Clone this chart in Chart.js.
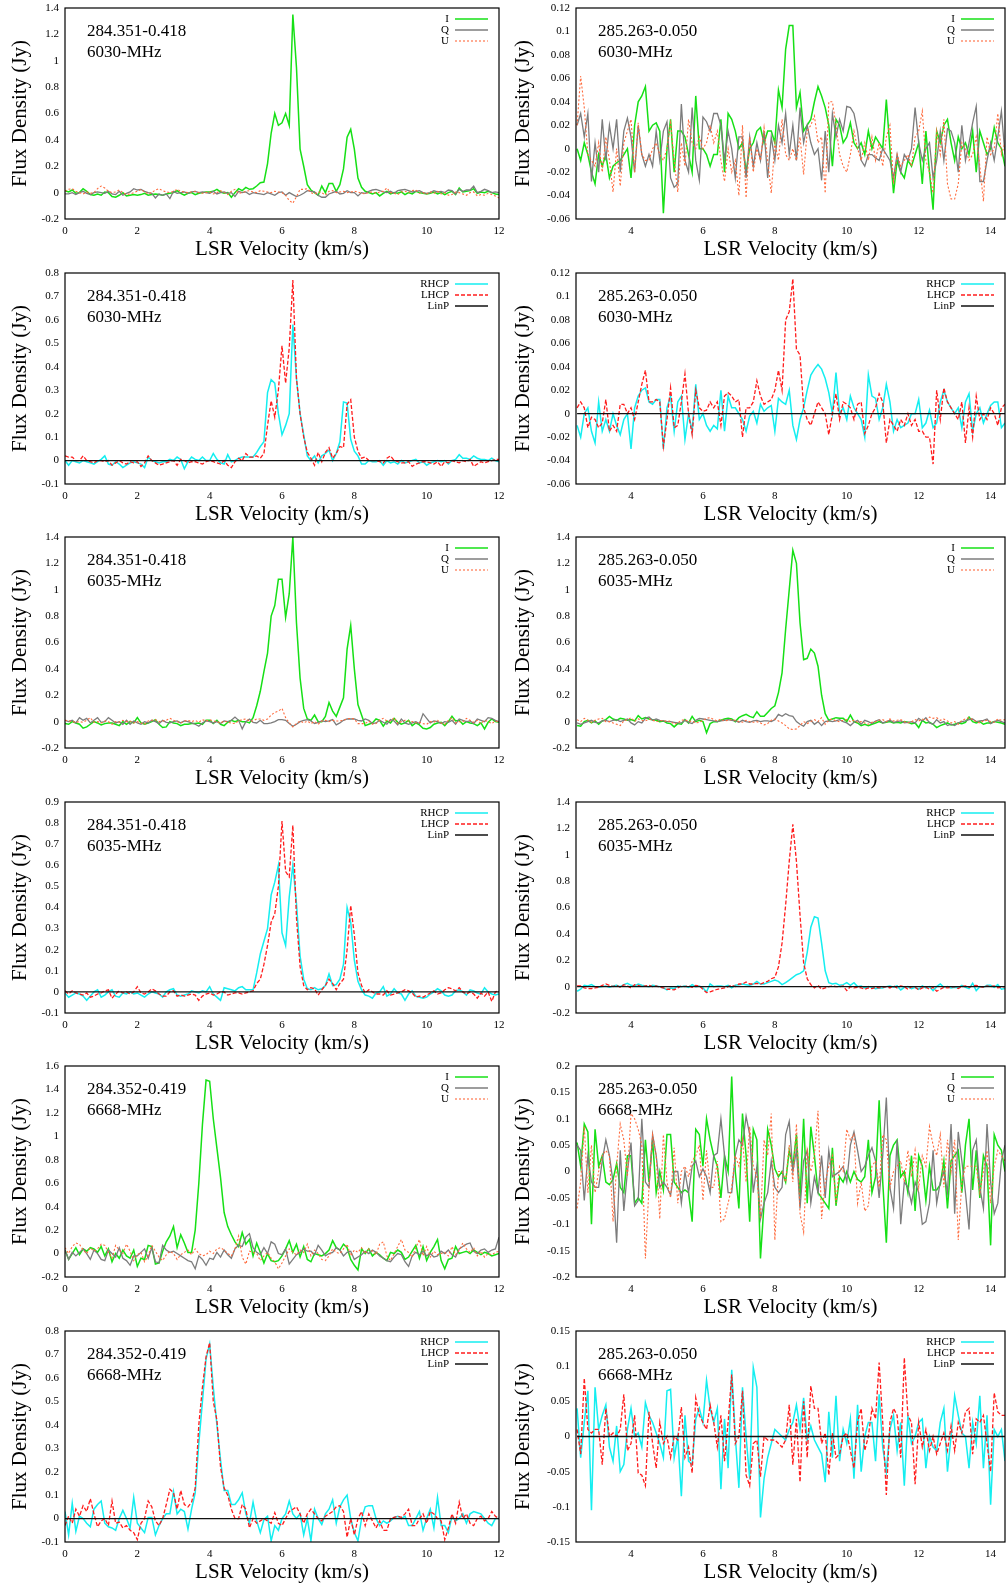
<!DOCTYPE html>
<html>
<head>
<meta charset="utf-8">
<title>Maser spectra 284.351-0.418 / 285.263-0.050</title>
<script src="https://cdn.jsdelivr.net/npm/chart.js@4.4.1/dist/chart.umd.min.js"></script>
<style>
  html, body { margin: 0; padding: 0; background: #fff; }
  #figure { position: relative; width: 1006px; height: 1587px; overflow: hidden; }
  #figure canvas { position: absolute; }
</style>
</head>
<body>
<div id="figure"></div>
<script>
// channel grids, km/s (0.1 km/s channels)
const leftVel = Array.from({ length: 121 }, (_, i) => +(i * 0.1).toFixed(1));
const rightVel = Array.from({ length: 120 }, (_, i) => +(2.5 + i * 0.1).toFixed(1));

const leftTicks = [0, 2, 4, 6, 8, 10, 12];
const rightTicks = [4, 6, 8, 10, 12, 14];

// flux densities in mJy, one value per channel

// 284.351-0.418, 6030 MHz, Stokes
const I284_6030 = [
  15, 5, 20, -5, 0, 30, 10, -15, -20, -10, -20, 5, 0, -30, -35, -20, 0, -25, -20, -15,
  -20, -15, -5, -20, -15, -10, -15, -20, -10, -5, 0, 15, -5, -20, -5, 0, -15, -5, 0, 5,
  5, 10, 25, 5, -5, 0, -35, 0, 30, 15, 40, 25, 30, 50, 75, 80, 220, 450, 600, 510,
  530, 600, 510, 1350, 950, 330, 200, 60, 20, 0, -20, 50, 0, 70, 70, 10, 60, 180, 420, 480,
  330, 110, 40, 10, 0, -10, 0, -25, -5, 10, -10, 0, -5, 5, -15, 0, -10, 10, 0, -5,
  -10, -5, 5, -10, 0, -15, 0, 10, -15, 35, 5, 10, 15, 30, -5, 5, 0, 10, 0, -10, -15];
const Q284_6030 = [
  -10, -10, 0, -15, 0, 10, -5, -15, 0, 5, 0, -5, 10, -10, -15, 10, -20, -5, 5, 30,
  20, 25, 10, 0, -5, -40, -10, -20, -10, -45, 10, -5, 0, 5, -5, 5, 10, 0, 5, 0,
  -5, 10, -10, 0, 5, -5, 0, -30, 10, 0, 5, -15, 0, -5, -10, -15, 0, -10, -20, 0,
  5, -20, 0, -15, -30, -20, -5, 15, 10, 5, -20, -35, -35, -10, 0, 10, -10, -5, 15, 0,
  0, -25, 0, -5, 10, 20, 25, 15, 5, 0, 10, -5, 15, 20, 25, 15, 5, 10, 15, 0,
  -5, 0, 15, 5, 10, 0, 20, 15, -10, 25, 10, 20, 20, 50, 0, 10, 25, 15, 0, 5, 0];
const U284_6030 = [
  10, 25, 30, 10, 0, -10, 5, -5, 0, 30, 50, 35, 10, 0, 5, 20, 0, -15, -10, 0,
  10, 25, 5, -10, 0, 20, 30, 15, 5, 0, 10, 25, 10, 5, 0, 5, 10, 0, -5, 0,
  5, -10, 0, 15, 0, -15, 10, 25, -5, 0, 10, 15, 5, 0, 15, 10, 5, 0, 10, 5,
  0, -20, -60, -80, -30, 25, 25, 30, 0, -10, 5, 0, -20, 10, 15, 0, 5, 10, 0, 5,
  10, 5, -5, -10, 0, 5, -5, 5, 10, 35, 0, -5, -15, 5, 10, 0, 15, 20, -5, 0,
  -10, 5, -5, 10, -10, 0, -20, -15, 5, 0, -10, -20, 0, 5, -25, -15, -20, -5, -15, -25, -40];

// 285.263-0.050, 6030 MHz, Stokes
const I285_6030 = [
  0, -10, 5, -5, -20, -30, -5, -15, -5, -25, -15, -12, -10, -5, 0, -25, 20, 40, 45, 53,
  15, 20, 22, 15, -55, 0, 25, -20, 15, 15, 10, -5, -20, 45, 0, 0, -5, -15, -5, -5,
  25, -20, 30, 25, 15, 0, 5, -20, 0, 5, 15, 18, 5, 15, 15, 5, 50, 35, 85, 105,
  105, 35, 48, 15, 20, 25, 40, 53, 45, 35, 20, -15, 25, 20, 5, 10, 22, 5, 0, 5,
  -5, 15, 0, 10, 5, 0, 42, 0, -38, -10, -20, -25, -10, -15, -5, 5, -30, 15, -20, -52,
  15, 5, 20, 25, 5, -10, 10, 0, 5, -5, 15, -20, 15, 5, -5, 0, 18, 5, 0, -15];
const Q285_6030 = [
  20, 30, 10, 30, -28, 5, -20, 25, -10, 20, 0, 25, -20, 15, 26, 10, -20, 20, -5, -15,
  -5, -15, 15, -10, 15, 23, -25, -33, -30, 38, -10, -20, 35, -10, -27, 27, 23, 15, 30, 30,
  20, -10, 15, 0, -25, 10, 10, -25, 10, -15, 5, -10, 15, -25, 10, -10, 20, 5, 30, -5,
  20, -10, 35, 5, 20, 5, -5, 0, -27, 15, -20, 30, 10, 25, 15, 36, 35, 30, 15, -10,
  -15, -5, -5, -8, -10, 0, -5, -10, -25, -5, -20, -5, -10, 0, 35, 5, -10, 0, 5, -25,
  -10, 15, -10, 17, 15, 5, -20, 20, -10, 5, 22, 36, -28, -28, -10, 5, -10, 10, 32, -5];
const U285_6030 = [
  20, 62, 35, -5, -10, -15, 5, -20, 10, -10, -37, 0, -32, 5, 15, 25, -20, 22, -5, -10,
  -10, 0, 5, -5, -10, 0, 22, -10, -37, 5, -15, 25, 5, 0, 10, 0, 5, 20, 5, 15,
  -10, -28, 0, -20, -10, -40, 20, -42, 10, -20, 0, -10, 18, -10, -38, 5, -10, 25, -5, -10,
  0, -10, 10, -22, 15, 20, 28, 5, 10, -38, 40, 40, 20, -5, -15, -20, -5, 15, 0, -10,
  5, -10, 10, -10, 5, -15, 10, 20, -30, -5, -15, -10, -5, -15, 10, 15, 32, -10, -20, -38,
  15, -5, 25, -30, -43, -43, -30, 5, 0, -10, -5, 10, -15, -45, 10, -5, 0, 30, -5, 5];

// 284.351-0.418, 6030 MHz, circular
const R284_6030 = [
  0, -20, 0, -5, -10, 0, -5, -10, -15, -5, 5, 20, -15, -20, -5, -15, -30, -20, -10, -5,
  -10, -15, -30, 15, 0, -5, -10, -5, -5, 5, 0, 15, 5, -35, -5, 15, 5, 0, 15, 0,
  0, 30, 5, -10, -15, 25, -5, 0, 10, 15, 15, 15, 15, 35, 60, 80, 290, 345, 330, 200,
  110, 150, 200, 580, 350, 200, 110, 20, 0, 20, -10, 20, 30, 45, 0, 30, 80, 250, 245, 90,
  40, 20, -15, -15, 0, -5, -5, 0, -20, 0, -10, -5, -15, 0, -10, -5, 0, 5, -10, -5,
  -20, -10, -5, 0, -5, 0, -15, 0, 5, 25, 10, 10, 5, 20, 10, 5, 5, 0, 10, 0, -5];
const L284_6030 = [
  20, 15, 15, 0, 0, 20, 0, -5, -10, 0, 0, -5, 0, -20, -10, 0, -10, -15, -5, -10,
  -5, -25, -10, 20, 0, -10, -20, -15, -10, -5, 0, -20, 5, 0, -10, -5, -5, -10, -15, -5,
  0, -5, -10, -15, 0, -20, -30, -5, 10, 0, 30, 15, 15, 20, 10, 30, 150, 255, 185, 300,
  490, 330, 480, 770, 350, 200, 100, 35, 10, -20, 35, -5, 35, 55, 10, 30, 60, 55, 240, 260,
  100, 40, 10, 15, 0, 0, 0, -5, -10, 10, 20, 0, -5, -10, -10, -5, -25, -15, -10, -5,
  -5, -10, -15, -5, -25, -5, -10, 0, -5, -10, 0, -5, 5, -25, -15, -5, -10, -5, 0, 5, 5];

// 285.263-0.050, 6030 MHz, circular
const R285_6030 = [
  -10, -20, 0, 5, -15, -25, 10, -15, -5, -15, 0, -10, -18, -5, 0, -30, 5, 15, 20, 22,
  10, 8, 12, 12, -30, 5, 15, -15, 10, 15, -22, 0, -15, 25, -5, 0, -10, -15, -10, -13,
  20, -15, 15, 5, 5, 0, -5, -15, -2, 2, -8, 8, 2, 5, 7, -15, 13, 10, 8, 20,
  -10, -22, -5, 5, 20, 33, 38, 42, 38, 30, 18, 0, 35, 0, 5, -5, 15, 5, 0, -5,
  -20, 33, 15, 13, -5, 5, 25, 10, -15, -5, -12, -10, -8, 0, 0, 12, -12, -8, 3, -12,
  -8, 10, 20, 10, 5, 0, 5, -12, 10, 17, -15, 0, 5, -8, 0, 7, 10, 10, -12, -8];
const L285_6030 = [
  5, 10, 5, -12, -3, -5, -12, -8, 12, -15, -10, -15, 8, 8, 0, 5, -5, 10, 25, 37,
  10, 10, 12, 10, -28, -5, 22, -12, -10, 10, 34, 0, -18, 20, 5, 2, 3, 10, 5, 10,
  -10, 15, 18, 15, 10, 12, -20, 5, 5, 10, 28, 15, 8, 10, 12, 20, 37, 20, 80, 87,
  115, 55, 50, 5, -5, -10, 0, 10, 5, 0, -18, 0, 17, -5, 10, 8, 5, -5, 8, 10,
  -17, -10, 0, 5, 17, 10, -25, -5, -10, -15, -5, -10, 0, -10, -5, -15, -15, -20, -20, -43,
  20, -5, 22, 10, 5, 0, -5, 10, -25, 5, -20, 15, -5, 0, -5, 5, 0, -10, 5, 8];

// 284.351-0.418, 6035 MHz, Stokes
const I284_6035 = [
  -15, -20, 0, -10, -20, -50, -40, -20, 0, -10, -25, -15, -10, -10, -20, -30, 0, -20, 0, -10,
  30, -10, -20, -10, 0, 15, -20, -45, -40, 0, -10, -15, -30, -20, -20, -15, -15, -10, -20, 10,
  10, -15, 10, -20, -30, -5, 10, 0, 10, 0, 0, -10, 30, 120, 230, 380, 520, 800, 880, 1080,
  1080, 790, 970, 1400, 750, 330, 100, 20, 10, 50, 0, 0, 40, 145, 80, 40, 110, 180, 550, 730,
  400, 130, 50, -30, -20, -10, 20, 10, -35, 5, -10, 25, -5, -20, -10, 10, -30, -10, -25, -50,
  -55, -45, -20, -10, -5, -30, 0, 40, 5, 10, -20, 0, -10, -15, -30, -10, -55, -5, 20, 0, -5];
const Q284_6035 = [
  10, 0, 10, -10, 30, 10, 25, -10, 10, 30, -5, 0, 30, 10, -10, 0, -20, 10, -20, 5,
  -10, -20, 0, -10, 10, 0, -15, 10, -5, -10, 0, 5, -10, 5, 0, -10, -20, -35, -10, 5,
  0, -10, 0, -15, 5, 0, 10, 35, 10, -55, 0, 20, -5, -10, 10, -15, -15, -10, 0, 15,
  15, 10, -15, -35, -20, 0, 10, 15, 5, -15, -5, 5, 0, 5, 15, -25, -10, 10, 20, 20,
  20, 10, 5, 20, 10, -15, -10, 10, -5, -20, 15, 5, -25, 20, -10, -20, -10, 0, -15, 60,
  25, -10, 5, 0, -15, 0, -5, 10, -20, 20, 10, 0, 5, -15, 20, 10, 0, 30, 25, 10, 0];
const U284_6035 = [
  10, 5, 0, -5, 0, -5, 10, 30, -5, 0, -10, 5, 0, -20, 0, -5, 10, 0, 5, -10,
  0, -10, -20, 5, 10, 15, 0, 5, 10, 25, 10, 0, -10, 5, 10, 0, 10, -5, 15, 5,
  15, 5, 0, -10, 5, -5, -10, -15, 5, 15, 20, 5, 5, 20, 20, 10, 20, 50, 70, 80,
  100, 30, -10, -40, -15, 5, -10, 5, -15, 0, -20, 5, 10, 0, 10, 5, 5, 10, 20, 25,
  20, -15, -15, -15, 5, -20, -15, 10, 25, 5, 5, 30, -15, 0, 10, 5, 0, -10, -5, -15,
  -20, 0, -5, 10, -10, -20, 10, 30, -10, 0, 0, 25, 10, -5, 10, -15, 10, 0, -15, 5, -5];

// 285.263-0.050, 6035 MHz, Stokes
const I285_6035 = [
  -30, -35, 0, 10, -10, 5, -20, 5, 15, 40, 20, 10, 25, 20, 10, 15, 5, 45, 20, 30,
  20, 15, 10, 0, 5, -10, -15, -40, -15, -20, 15, -10, 40, 0, 10, 0, -85, -15, 0, 0,
  10, 20, 25, 20, 0, 30, 45, 55, 40, 30, 75, 40, 40, 70, 100, 120, 220, 370, 700, 1000,
  1300, 1200, 750, 470, 480, 550, 520, 420, 200, 60, 10, 20, 30, 25, 25, 0, 50, 0, -10, -30,
  -20, -30, -20, -10, 0, -10, -5, 0, -10, -5, -10, 0, -5, -15, -10, -45, 10, -10, -5, -20,
  -45, -30, -20, -10, -25, -20, -10, -15, -5, 35, 0, -10, 0, -20, -10, -10, 0, -5, -10, -20];
const Q285_6035 = [
  -10, -20, -10, 0, 10, -5, -10, 5, 10, 0, 10, 15, 0, 10, 20, -10, -25, 0, -10, 25,
  35, 10, 20, 10, 5, 0, 0, -5, -10, -10, 10, -5, -15, 10, 25, 20, 15, 10, 5, 0,
  5, 10, 15, 10, 5, -5, 10, 0, -5, 5, 10, 0, 5, 5, 0, 15, 55, 40, 60, 45,
  40, 0, -20, -35, 0, 10, -20, 0, -30, 0, 5, 0, 5, 15, 0, -10, -30, -5, 10, -20,
  10, 0, -15, 5, 15, -10, 0, 10, -5, 0, 5, -10, -5, 0, -10, 25, 5, 30, -10, -20,
  15, -10, 0, -30, -20, -30, -10, 0, 5, 15, 20, 0, 5, 10, 20, -15, 0, 10, 0, -10];
const U285_6035 = [
  15, 0, 25, 10, -5, 10, 20, 25, 0, 0, -10, -20, -30, 5, 15, 30, 0, 20, 10, 5,
  20, 10, 0, 5, 10, 0, 5, -20, -10, 10, 15, 0, 5, -10, -5, 10, 25, 30, 15, 5,
  20, 5, 10, 15, 10, 0, -5, 10, 0, -5, 0, -10, -25, -15, 10, 20, 5, -10, -30, -55,
  -60, -55, -30, 0, -15, 0, 15, 0, 30, -20, 10, 20, 5, 0, 10, 15, 0, 10, -5, 0,
  -10, -20, -5, 0, 10, 15, 0, 20, 5, 10, 15, 0, -10, 0, 15, 5, 20, 10, 35, 25,
  30, 10, 20, 5, -10, 0, -20, 10, 20, 30, 15, 0, -10, 5, 10, 0, -5, 20, 10, 15];

// 284.351-0.418, 6035 MHz, circular
const R284_6035 = [
  -5, -25, -15, -5, -10, -20, -40, -20, 0, 10, -25, -15, 0, 10, -20, -25, -5, -10, 0, -10,
  -5, -15, -25, -10, 0, -5, -10, -25, 0, 10, 15, -15, -20, -15, -10, 5, 0, -5, 5, 0,
  25, -10, -25, -40, 20, 15, 10, 5, 20, 25, 10, 10, 10, 90, 180, 240, 300, 460, 520, 600,
  280, 220, 450, 600, 420, 170, 60, 15, 10, 20, 10, 15, 30, 85, 30, 35, 60, 130, 400, 330,
  150, 50, 10, -15, -20, -30, -5, 0, 25, -20, -10, 15, -5, -10, -40, -10, 5, -20, -25, -30,
  -25, -10, 0, 15, 5, -15, -20, -15, 5, 10, 0, -15, 10, 5, -5, -10, 20, 0, -10, -15, -10];
const L284_6035 = [
  5, -10, 5, -5, -10, -15, -5, -25, -20, -10, -5, 5, 10, -30, -10, 5, -5, 0, -10, 0,
  25, -5, -10, 0, 15, 5, -10, -20, -20, 0, 5, -20, -15, -20, -15, -10, -15, -40, -20, -10,
  -5, -15, -10, 0, 0, -15, -10, -5, -5, -10, -5, 0, 5, 40, 60, 130, 220, 330, 370, 500,
  810, 570, 545, 790, 350, 120, 30, 10, 20, 15, -15, 10, 30, 60, 40, 10, 40, 60, 200, 410,
  270, 90, 30, -5, 10, 0, -10, -10, -15, 5, -15, -10, -5, 0, 10, 5, -5, -25, -20, -25,
  -15, -5, 5, -10, -5, 10, 20, 15, 5, 20, 0, -10, 0, -10, -30, -5, -20, 0, -45, 0, 5];

// 285.263-0.050, 6035 MHz, circular
const R285_6035 = [
  -35, -20, 10, 5, 15, 0, -5, 0, 5, -5, 5, 10, 0, 15, 25, 10, 5, 20, 10, 5,
  0, 10, 5, 0, -10, -25, -10, -15, 5, 0, 5, -5, 15, 0, 5, -10, -40, 20, 0, 5,
  5, 0, 10, -10, 10, 15, 20, 15, 10, 20, 40, 20, 20, 30, 40, 50, 40, 15, 30, 50,
  70, 90, 100, 120, 260, 450, 530, 520, 330, 120, 30, 20, 25, 10, 15, 30, 10, 30, 0, 5,
  -10, 0, -5, -15, -10, -10, 0, 5, -5, 5, -25, -5, 0, -15, -5, -20, 5, -10, 0, -30,
  0, 20, -5, 0, -10, -5, -10, 10, -5, -15, 25, -30, 0, -5, 10, 10, -5, 15, -20, -15];
const L285_6035 = [
  5, 5, -10, -15, -15, -10, -5, 10, 20, 10, 0, 10, -5, 15, 5, -10, 15, 10, 0, 5,
  10, 0, 5, -5, -10, -20, -20, -25, -10, 5, 0, 5, -5, 10, 5, -20, -45, -40, -30, -20,
  -15, -10, 0, 10, 0, 20, 20, 35, 20, 20, 25, 20, 30, 40, 60, 70, 150, 330, 620, 950,
  1230, 950, 540, 180, 60, 15, -10, 10, -20, -10, 0, 5, 0, 0, 5, -30, 0, -10, -5, -10,
  -20, -10, -15, -5, -10, -5, 0, -10, 5, -10, 5, 0, -20, 0, -5, -25, -10, -5, -20, -5,
  -35, -20, -5, -10, -5, 0, -15, 0, 5, -5, 5, 10, 0, -5, 5, 0, 5, -10, -5, 0];

// 284.352-0.419, 6668 MHz, Stokes
const I284_6668 = [
  30, -50, 0, 50, -10, 40, 20, 50, 40, 10, 60, -20, 40, -70, 0, -40, 30, -20, -40, 30,
  -110, -40, -50, 70, 60, -90, -80, 20, 100, 150, 230, 50, 160, 90, 10, 10, 200, 600, 1100, 1480,
  1470, 1150, 900, 650, 350, 230, 160, 100, 60, 180, 80, 120, -20, 90, 10, -80, 0, -60, -70, -60,
  -20, 40, 110, 10, 80, -30, 60, -50, -70, 0, -10, -20, 0, 30, 110, 50, 30, 80, 50, -50,
  -100, -140, 40, 0, 40, -20, 10, -10, -40, -60, 10, 0, 30, 10, -50, -30, 20, 70, -40, 60,
  -60, 10, 60, 120, -60, -130, -50, -40, 60, 0, 10, 20, 0, 30, 10, -10, 10, 0, -20, -10, 0];
const Q284_6668 = [
  30, -50, 10, -20, 10, 40, 0, -50, 30, 0, -50, -60, 30, 0, -30, 50, -40, -60, -100, -20,
  -20, 10, 40, -40, 50, -70, -80, 70, 30, 10, 20, 0, -20, -40, -60, -70, -130, -20, -50, -100,
  -40, -50, 10, -30, 30, -10, -40, 40, 70, 60, 140, 170, 50, 10, -10, 50, 0, 100, 80, 0,
  -10, 40, -90, -50, -10, 10, 40, 20, 20, -10, 70, 30, -20, 0, 10, 50, 30, -20, 10, 20,
  -50, -30, -10, 20, 0, 30, 10, -20, -40, -60, -70, -30, 0, -10, -70, -110, -20, 10, -10, 20,
  -20, 0, -30, -20, 20, 0, 30, -10, -30, 40, 60, 80, 90, 20, 0, 30, 40, 10, 30, 40, 140];
const U284_6668 = [
  50, 0, 60, 90, 80, 30, 0, 50, 20, 40, 80, 70, 10, -40, 70, 30, 0, 80, 20, -60,
  -10, 10, -70, -20, 70, 20, -30, -60, -10, 20, 0, -50, -10, 10, 30, -10, 40, 0, -20, -10,
  20, 0, 40, 50, 30, 0, -20, 40, 150, -30, -90, 20, 10, 0, -60, -20, 10, -40, -70, -130,
  -80, -20, 40, 10, -10, 30, 10, 80, -20, 30, 0, -50, -60, -20, 40, 10, 0, 40, 80, -20,
  30, 10, 50, 0, 40, 20, -10, 80, 100, -20, -60, 0, 60, 120, 30, 10, -30, 50, 120, -20,
  60, -30, 20, -10, 0, 10, -20, 60, -10, 30, 90, 40, 10, 50, -20, 20, -30, 0, -10, 10, 20];

// 285.263-0.050, 6668 MHz, Stokes
const I285_6668 = [
  55, 10, 90, 75, -100, 80, 10, 30, -20, -25, -15, 15, -30, -40, 30, 30, -60, -50, -60, 60,
  -20, 60, -40, 0, -35, 70, 70, -20, -30, -40, -35, -40, -95, 80, 70, 10, 100, 60, 30, 10,
  -50, 30, 0, 180, 0, -70, 110, 30, -95, 80, 60, -165, -60, 80, 50, 5, -10, 0, -20, 40,
  10, 70, -50, 100, -60, 85, 30, -40, -50, -60, -70, 45, -65, -10, -20, 0, -20, 0, -15, -20,
  -10, 60, -40, -10, 135, -20, -135, 30, 50, 60, -10, 0, -40, 30, -75, 30, 10, -55, 10, -35,
  -35, -25, 20, -70, 20, 30, 40, -40, 50, 100, -35, 40, -50, 30, 10, -140, 70, 50, 40, 0];
const Q285_6668 = [
  50, 40, -55, 30, -20, -30, -30, 20, 60, 30, -20, -135, 40, -75, 0, 55, -65, -55, 100, -20,
  -30, 70, 30, -30, -20, -30, -45, 0, 0, -60, 0, -40, 10, 20, -10, 5, -10, -40, 30, 35,
  100, 30, -40, -40, 30, 60, 50, 105, 70, -40, 10, -90, -60, -40, 20, -30, -40, -30, 70, 95,
  0, 40, -70, 20, 40, -60, -10, -40, 30, -50, 40, -10, -5, 0, 10, -20, 50, 75, 40, 0,
  10, 30, 45, 20, -50, 30, 140, -30, -70, 60, -100, -20, -30, -60, -20, -40, -100, -95, -60, 40,
  -60, -20, 0, -40, 90, -80, 75, 20, -40, -110, 40, 60, -30, -70, 90, -20, -80, -60, 20, 50];
const U285_6668 = [
  -70, -20, 85, -40, 50, -40, 0, 30, 40, 30, -95, 10, 90, 60, -10, 110, 100, 80, 50, -165,
  -30, 70, 30, -90, 70, -20, -50, 45, -60, 0, 10, -10, 20, 30, 50, -55, 40, -30, -30, 20,
  -95, -90, -60, -30, 30, 10, 60, -20, 85, 10, -10, -90, 60, 30, 110, -130, 0, 0, -20, 50,
  -20, 90, -80, -115, 40, 0, 30, 115, -90, -20, 10, 30, -60, 10, 0, 80, 60, 70, -60, -20,
  -75, -65, 10, 20, -30, 70, 60, -30, 0, 10, 20, -20, 40, -10, 40, -30, 30, 10, 85, 50,
  30, 70, -30, 60, 0, 60, -130, -20, 10, 10, 10, 10, -40, 0, 40, -60, 10, 40, 30, 20];

// 284.352-0.419, 6668 MHz, circular
const R284_6668 = [
  30, -70, 65, -55, 10, 0, -20, -35, 40, 60, 75, -20, -35, -40, -50, 0, 35, 0, -40, 90,
  -20, -40, -60, 5, 5, -70, -30, 0, 20, 20, 115, 20, 40, 30, -45, 40, 110, 320, 500, 680,
  745, 560, 400, 250, 120, 120, 60, 60, 80, 110, 20, -20, 70, -10, -60, -5, 10, -95, -30, -50,
  0, 20, 75, 20, 0, 20, -70, 0, -95, 40, 0, -25, 20, 40, 80, -20, 50, 80, 100, 0,
  -60, -95, 0, 50, 55, 55, 0, -30, -10, -20, -10, 5, 10, 0, 10, -30, -30, 0, 30, -50,
  0, 40, -40, 90, -30, -30, -60, 10, -10, 0, 20, -20, 20, 30, 25, 20, 0, -20, -30, 0, 0];
const L284_6668 = [
  -30, 10, -20, 40, 10, 55, 30, 85, 20, -35, -10, 0, -30, 75, -20, -15, -40, -30, -50, -60,
  -90, -20, 0, 75, 50, -10, -30, 0, 60, 125, 110, 40, 120, 60, 50, 70, 130, 400, 560, 690,
  750, 500, 420, 220, 130, 100, 40, 0, 0, 60, 40, -40, 0, -20, -10, 0, -10, -20, 25, -20,
  -30, 0, 30, 40, 50, 20, -20, 20, 40, 20, 0, -10, 10, 20, 30, 50, 55, 30, -80, 0,
  -70, 0, 30, -30, 20, -10, -40, -10, -50, -50, 0, 5, 10, 5, 20, 40, -30, -30, 0, 20,
  -20, 30, 20, 0, -10, -90, -40, 20, -20, 70, 0, 20, -20, -30, 0, 10, -10, 0, 30, 10, 0];

// 285.263-0.050, 6668 MHz, circular
const R285_6668 = [
  40, -30, 20, 65, -105, 70, 10, 30, 45, -15, -35, 15, -50, -40, 10, 40, 0, 5, -15, 48,
  30, 20, 5, -10, -30, 65, 67, -30, 0, -85, 30, -35, -40, 25, 40, 20, 80, 40, 20, 40,
  -75, 25, -45, 95, 0, -73, 70, 0, -60, 98, 70, -115, -60, -30, -10, 10, 5, 0, -5, 10,
  20, 45, 10, 55, -5, 15, -5, -15, -25, -65, 35, -30, 58, -35, 10, -10, 25, -60, 45, -50,
  0, 20, 20, -35, 60, -15, -50, 10, 30, -20, 20, -70, 30, -10, 0, 20, 25, -45, 0, -15,
  -20, 20, 40, -50, 0, 58, 30, 5, 0, -45, 20, -10, 58, -45, 30, -97, 10, 0, 10, -35];
const L285_6668 = [
  10, -25, 83, 10, 5, 10, 10, -40, 40, 0, 5, 0, 10, 60, -20, -10, 30, -52, -55, -70,
  35, -10, -45, 20, -10, 0, -30, 0, -5, 42, -30, -15, -52, 55, 30, 20, 10, 45, 20, -15,
  30, -35, 20, 88, -10, 0, 65, -55, -70, -10, -5, -57, 0, -5, -5, -5, -10, -15, -5, 45,
  -40, 25, -65, 50, -30, 72, 40, 40, -10, 5, -55, 5, -30, -25, 0, 5, -20, -45, 20, 40,
  -20, 0, 40, 25, 105, 20, -83, 20, 40, 30, -30, 112, 30, 20, -68, 20, -15, 10, -20, 0,
  -25, -10, 5, -20, 15, -20, 20, 5, 35, 40, -25, 25, 20, 30, -10, -50, 62, 35, 30, 30];

// linear polarisation trace sits at zero in every circular panel
const linPLevel = 0;

const FONT = '"Liberation Serif", "Times New Roman", serif';

const stokesStyles = [
  { label: 'I', color: '#16e016', width: 1.5, dash: [] },
  { label: 'Q', color: '#7c7c7c', width: 1.3, dash: [] },
  { label: 'U', color: '#ff6a3c', width: 1.1, dash: [2, 2] }
];
const circStyles = [
  { label: 'RHCP', color: '#14eef0', width: 1.5, dash: [] },
  { label: 'LHCP', color: '#ff1c1c', width: 1.3, dash: [4, 2] },
  { label: 'LinP', color: '#111111', width: 1.3, dash: [] }
];

const panels = [
  { row: 0, col: 0, src: '284.351-0.418', freq: '6030-MHz', kind: 'stokes', y: [-0.2, 1.4, 0.2], series: [I284_6030, Q284_6030, U284_6030] },
  { row: 0, col: 1, src: '285.263-0.050', freq: '6030-MHz', kind: 'stokes', y: [-0.06, 0.12, 0.02], series: [I285_6030, Q285_6030, U285_6030] },
  { row: 1, col: 0, src: '284.351-0.418', freq: '6030-MHz', kind: 'circ', y: [-0.1, 0.8, 0.1], series: [R284_6030, L284_6030] },
  { row: 1, col: 1, src: '285.263-0.050', freq: '6030-MHz', kind: 'circ', y: [-0.06, 0.12, 0.02], series: [R285_6030, L285_6030] },
  { row: 2, col: 0, src: '284.351-0.418', freq: '6035-MHz', kind: 'stokes', y: [-0.2, 1.4, 0.2], series: [I284_6035, Q284_6035, U284_6035] },
  { row: 2, col: 1, src: '285.263-0.050', freq: '6035-MHz', kind: 'stokes', y: [-0.2, 1.4, 0.2], series: [I285_6035, Q285_6035, U285_6035] },
  { row: 3, col: 0, src: '284.351-0.418', freq: '6035-MHz', kind: 'circ', y: [-0.1, 0.9, 0.1], series: [R284_6035, L284_6035] },
  { row: 3, col: 1, src: '285.263-0.050', freq: '6035-MHz', kind: 'circ', y: [-0.2, 1.4, 0.2], series: [R285_6035, L285_6035] },
  { row: 4, col: 0, src: '284.352-0.419', freq: '6668-MHz', kind: 'stokes', y: [-0.2, 1.6, 0.2], series: [I284_6668, Q284_6668, U284_6668] },
  { row: 4, col: 1, src: '285.263-0.050', freq: '6668-MHz', kind: 'stokes', y: [-0.2, 0.2, 0.05], series: [I285_6668, Q285_6668, U285_6668] },
  { row: 5, col: 0, src: '284.352-0.419', freq: '6668-MHz', kind: 'circ', y: [-0.1, 0.8, 0.1], series: [R284_6668, L284_6668] },
  { row: 5, col: 1, src: '285.263-0.050', freq: '6668-MHz', kind: 'circ', y: [-0.15, 0.15, 0.05], series: [R285_6668, L285_6668] }
];

const ROW_H = 264.5;
const CANVAS_H = 265;

// frame, source name and key, drawn the gnuplot way
function panelDecor(p, styles) {
  return {
    id: 'panelDecor',
    afterDatasetsDraw(chart) {
      const { ctx, chartArea: a } = chart;
      ctx.save();
      ctx.strokeStyle = '#000';
      ctx.lineWidth = 1.2;
      ctx.setLineDash([]);
      ctx.strokeRect(a.left, a.top, a.right - a.left, a.bottom - a.top);

      ctx.fillStyle = '#000';
      ctx.font = '17px ' + FONT;
      ctx.textAlign = 'left';
      ctx.textBaseline = 'alphabetic';
      ctx.fillText(p.src, a.left + 22, a.top + 28);
      ctx.fillText(p.freq, a.left + 22, a.top + 49);

      ctx.font = '11px ' + FONT;
      ctx.textAlign = 'right';
      ctx.textBaseline = 'middle';
      styles.forEach((s, k) => {
        const y = a.top + 11 + k * 11;
        ctx.fillText(s.label, a.right - 50, y);
        ctx.strokeStyle = s.color;
        ctx.lineWidth = s.width;
        ctx.setLineDash(s.dash);
        ctx.beginPath();
        ctx.moveTo(a.right - 44, y);
        ctx.lineTo(a.right - 11, y);
        ctx.stroke();
      });
      ctx.restore();
    }
  };
}

const figure = document.getElementById('figure');

panels.forEach(p => {
  const left = p.col === 0;
  const vel = left ? leftVel : rightVel;
  const styles = p.kind === 'stokes' ? stokesStyles : circStyles;

  const canvas = document.createElement('canvas');
  canvas.width = left ? 515 : 503;
  canvas.height = CANVAS_H;
  canvas.style.left = (left ? 0 : 503) + 'px';
  canvas.style.top = Math.round(p.row * ROW_H) + 'px';
  figure.appendChild(canvas);

  const datasets = p.series.map((vals, k) => ({
    label: styles[k].label,
    data: vals.map((mJy, i) => ({ x: vel[i], y: mJy / 1000 })),
    borderColor: styles[k].color,
    borderWidth: styles[k].width,
    borderDash: styles[k].dash,
    pointRadius: 0,
    tension: 0,
    fill: false,
    order: -k
  }));
  if (p.kind === 'circ') {
    const s = styles[2];
    datasets.push({
      label: s.label,
      data: [{ x: vel[0], y: linPLevel }, { x: vel[vel.length - 1], y: linPLevel }],
      borderColor: s.color,
      borderWidth: s.width,
      borderDash: s.dash,
      pointRadius: 0,
      fill: false,
      order: -2
    });
  }

  const [yMin, yMax, yStep] = p.y;
  const xTicks = left ? leftTicks : rightTicks;

  new Chart(canvas, {
    type: 'line',
    data: { datasets },
    options: {
      responsive: false,
      animation: false,
      devicePixelRatio: 1,
      parsing: false,
      layout: { padding: { top: 8, right: left ? 16 : 1, left: 0, bottom: 0 } },
      plugins: { legend: { display: false }, tooltip: { enabled: false } },
      scales: {
        x: {
          type: 'linear',
          min: left ? 0 : 2.47,
          max: left ? 12 : 14.4,
          grid: { display: false, drawTicks: false },
          border: { display: false },
          ticks: { color: '#000', font: { family: FONT, size: 11 }, padding: 6, maxRotation: 0, autoSkip: false },
          afterBuildTicks: s => { s.ticks = xTicks.map(v => ({ value: v })); },
          afterFit: s => { s.height = 46; s.paddingLeft = 0; s.paddingRight = 0; },
          title: {
            display: true, text: 'LSR Velocity (km/s)', color: '#000',
            font: { family: FONT, size: 21 }, padding: { top: 0, bottom: 3 }
          }
        },
        y: {
          min: yMin,
          max: yMax,
          grid: { display: false, drawTicks: false },
          border: { display: false },
          ticks: {
            stepSize: yStep, color: '#000', font: { family: FONT, size: 11 }, padding: 6,
            callback: v => String(+v.toFixed(3))
          },
          afterFit: s => { s.width = left ? 65 : 73; s.paddingTop = 0; s.paddingBottom = 0; },
          title: {
            display: true, text: 'Flux Density (Jy)', color: '#000',
            font: { family: FONT, size: 21 }, padding: { top: 8, bottom: 0 }
          }
        }
      }
    },
    plugins: [panelDecor(p, styles)]
  });
});
</script>
</body>
</html>
